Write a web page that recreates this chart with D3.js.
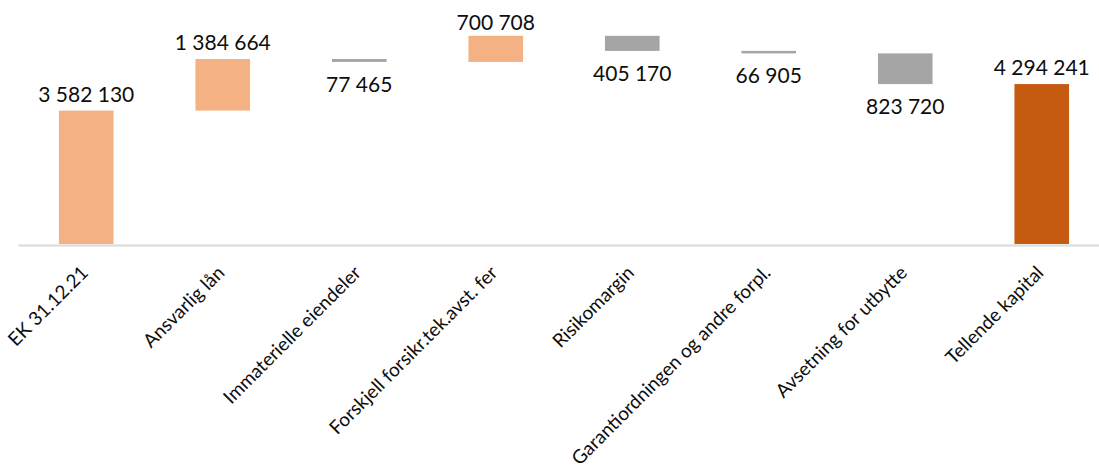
<!DOCTYPE html>
<html>
<head>
<meta charset="utf-8">
<script src="https://cdn.jsdelivr.net/npm/d3@7"></script>
<style>
  body { margin: 0; background: #fff; }
  svg { display: block; }
</style>
</head>
<body>
<svg id="chart" width="1099" height="474"></svg>
<script>
// waterfall: egenkapital -> tellende kapital
const categories = [
    "EK 31.12.21",
    "Ansvarlig lån",
    "Immaterielle eiendeler",
    "Forskjell forsikr.tek.avst. fer",
    "Risikomargin",
    "Garantiordningen og andre forpl.",
    "Avsetning for utbytte",
    "Tellende kapital"
];
const values = [3582130, 1384664, -77465, 700708, -405170, -66905, -823720, 4294241];
// start = opening balance, delta = change, end = closing total
const kinds = ["start", "delta", "delta", "delta", "delta", "delta", "delta", "end"];

const colors = {up: "#F4B183", down: "#A5A5A5", end: "#C55A11"};

// running sum so every delta floats on the previous total
let running = 0;
const data = categories.map((c, i) => {
    let lo, hi;
    if (kinds[i] === "delta") {
        const before = running;
        running += values[i];
        lo = Math.min(before, running);
        hi = Math.max(before, running);
    } else {
        running = values[i];
        lo = 0;
        hi = values[i];
    }
    return {name: c, value: values[i], kind: kinds[i], lo: lo, hi: hi};
});

const svg = d3.select("#chart");
const baseY = 244;

const x = d3.scaleBand()
    .domain(categories)
    .range([18, 1110])
    .paddingInner(0.6)
    .paddingOuter(0.3);

const y = d3.scaleLinear()
    .domain([0, 6552000])
    .range([baseY, 0]);

const fmt = d3.formatLocale({decimal: ",", thousands: " ", grouping: [3], currency: ["", ""]}).format(",d");

function fill(d) {
    if (d.kind === "end") return colors.end;
    return d.value < 0 ? colors.down : colors.up;
}

//bars
svg.append("g")
    .selectAll("rect")
    .data(data)
    .enter()
    .append("rect")
    .attr("x", d => x(d.name))
    .attr("width", x.bandwidth())
    .attr("y", d => y(d.hi))
    .attr("height", d => Math.max(1, y(d.lo) - y(d.hi)))
    .style("fill", fill);

//x axis, only the light grey base line and rotated labels
const axis = svg.append("g")
    .attr("transform", "translate(0," + (baseY + 1) + ")")
    .call(d3.axisBottom(x).tickSize(0).tickSizeOuter(0));

axis.select(".domain")
    .style("stroke", "#d9d9d9")
    .style("stroke-width", 2);

axis.selectAll(".tick text")
    .attr("y", null)
    .attr("dy", null)
    .attr("text-anchor", "end")
    .attr("transform", "translate(3,29) rotate(-45)")
    .style("font-family", "Lato, 'Open Sans', sans-serif")
    .style("font-size", "19px")
    .style("fill", "#0d0d0d");

//value labels: above rising bars, below falling ones
svg.append("g")
    .selectAll("text")
    .data(data)
    .enter()
    .append("text")
    .attr("x", d => x(d.name) + x.bandwidth() / 2)
    .attr("y", d => d.value < 0 ? y(d.lo) + 30 : Math.max(30, y(d.hi) - 9))
    .attr("text-anchor", "middle")
    .style("font-family", "Lato, 'Open Sans', sans-serif")
    .style("font-size", "21px")
    .style("fill", "#0d0d0d")
    .text(d => fmt(Math.abs(d.value)));
</script>
</body>
</html>
